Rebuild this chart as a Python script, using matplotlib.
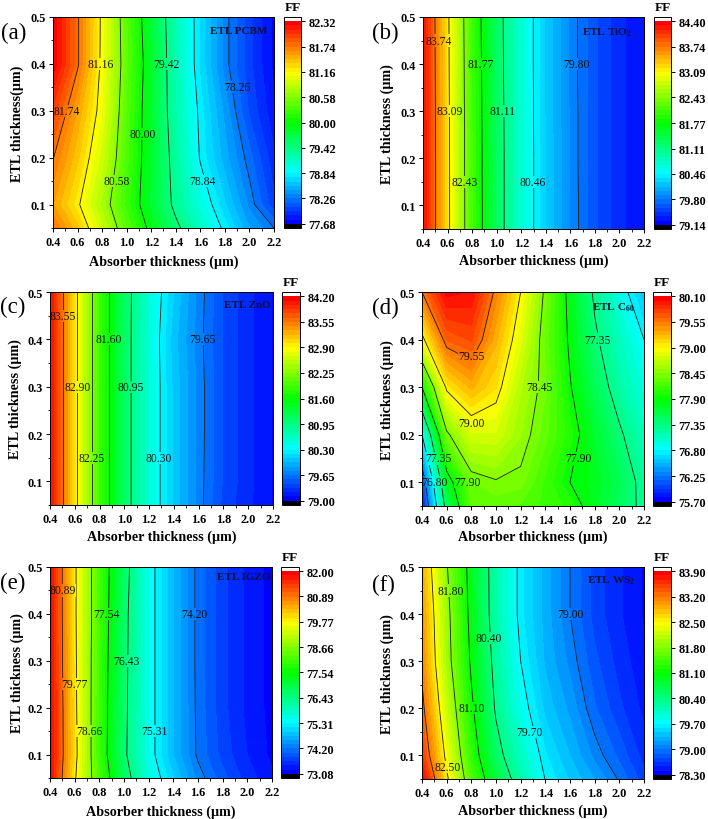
import numpy as np
import matplotlib
matplotlib.use('Agg')
from matplotlib import pyplot as plt
from matplotlib.colors import LinearSegmentedColormap
from matplotlib.path import Path
from matplotlib.transforms import blended_transform_factory

plt.rcParams['font.family'] = ['Liberation Serif', 'DejaVu Serif']
plt.rcParams['mathtext.fontset'] = 'custom'
plt.rcParams['mathtext.bf'] = 'Liberation Serif:bold'
plt.rcParams['mathtext.rm'] = 'Liberation Serif:bold'

W, H = 708, 820

# absorber and ETL thickness (um)
absorber = [0.4, 0.6, 0.8, 1.0, 1.2, 1.4, 1.6, 1.8, 2.0, 2.2]
etl = [0.05, 0.1, 0.2, 0.3, 0.4, 0.5]

# FF, one row per ETL thickness (0.05 first)
ff_pcbm = [
    [81.75, 81.38, 80.89, 80.39, 79.91, 79.49, 79.13, 78.79, 78.46, 78.26],
    [81.55, 81.20, 80.74, 80.25, 79.78, 79.34, 79.00, 78.66, 78.33, 78.00],
    [81.75, 81.38, 80.92, 80.33, 79.79, 79.29, 78.82, 78.50, 78.20, 77.90],
    [82.00, 81.53, 81.06, 80.37, 79.78, 79.23, 78.79, 78.42, 78.05, 77.80],
    [82.30, 81.77, 81.10, 80.42, 79.80, 79.20, 78.72, 78.31, 78.00, 77.75],
    [82.30, 81.77, 81.11, 80.39, 79.75, 79.19, 78.72, 78.31, 78.00, 77.75],
]
ff_tio2 = [
    [84.33, 83.18, 82.11, 81.29, 80.70, 80.23, 79.90, 79.60, 79.40, 79.25],
    [84.33, 83.18, 82.11, 81.29, 80.70, 80.23, 79.90, 79.60, 79.40, 79.25],
    [84.33, 83.18, 82.10, 81.29, 80.70, 80.23, 79.89, 79.60, 79.40, 79.25],
    [84.32, 83.17, 82.09, 81.28, 80.70, 80.22, 79.89, 79.60, 79.40, 79.25],
    [84.31, 83.16, 82.08, 81.27, 80.69, 80.22, 79.88, 79.60, 79.40, 79.25],
    [84.30, 83.15, 82.06, 81.26, 80.69, 80.22, 79.88, 79.60, 79.40, 79.25],
]
ff_zno = [
    [84.15, 83.01, 81.90, 81.12, 80.50, 80.05, 79.71, 79.40, 79.24, 79.10],
    [84.15, 83.01, 81.90, 81.12, 80.50, 80.05, 79.71, 79.42, 79.25, 79.10],
    [84.15, 83.01, 81.90, 81.12, 80.50, 80.05, 79.72, 79.42, 79.25, 79.10],
    [84.15, 83.01, 81.90, 81.12, 80.50, 80.05, 79.72, 79.42, 79.25, 79.10],
    [84.15, 83.01, 81.90, 81.12, 80.50, 80.02, 79.70, 79.42, 79.25, 79.10],
    [84.15, 83.01, 81.90, 81.12, 80.52, 80.08, 79.72, 79.42, 79.25, 79.10],
]
ff_c60 = [
    [75.80, 77.50, 78.30, 78.30, 78.25, 78.15, 78.05, 77.75, 77.50, 77.28],
    [76.00, 77.75, 78.35, 78.43, 78.40, 78.15, 77.90, 77.78, 77.55, 77.25],
    [76.80, 78.40, 78.80, 78.80, 78.55, 78.30, 78.03, 77.70, 77.40, 77.10],
    [77.90, 79.05, 79.30, 79.10, 78.65, 78.37, 77.92, 77.55, 77.20, 76.95],
    [78.93, 79.65, 79.75, 79.30, 78.85, 78.33, 77.85, 77.40, 77.10, 76.80],
    [79.55, 80.05, 80.00, 79.50, 79.00, 78.40, 77.80, 77.30, 76.93, 76.55],
]
ff_igzo = [
    [81.90, 79.85, 78.13, 76.75, 75.65, 74.95, 74.32, 73.90, 73.55, 73.30],
    [81.95, 79.97, 78.00, 76.55, 75.50, 74.75, 74.15, 73.75, 73.45, 73.22],
    [81.95, 79.93, 78.02, 76.58, 75.50, 74.75, 74.13, 73.70, 73.40, 73.20],
    [81.92, 79.90, 78.05, 76.60, 75.50, 74.75, 74.12, 73.70, 73.40, 73.20],
    [81.90, 79.87, 78.10, 76.62, 75.50, 74.75, 74.12, 73.70, 73.40, 73.20],
    [81.90, 79.87, 78.10, 76.70, 75.50, 74.75, 74.12, 73.70, 73.40, 73.20],
]
ff_ws2 = [
    [83.90, 82.57, 81.50, 80.77, 80.18, 79.69, 79.45, 79.23, 78.98, 78.70],
    [83.55, 82.40, 81.35, 80.55, 80.05, 79.60, 79.35, 79.08, 78.85, 78.60],
    [83.30, 82.17, 81.17, 80.35, 79.83, 79.43, 79.20, 78.90, 78.68, 78.50],
    [83.12, 81.97, 81.04, 80.26, 79.70, 79.33, 79.08, 78.80, 78.60, 78.45],
    [83.03, 81.93, 80.97, 80.18, 79.62, 79.30, 79.00, 78.72, 78.55, 78.40],
    [82.91, 81.83, 80.93, 80.18, 79.62, 79.30, 79.00, 78.72, 78.55, 78.40],
]

# colourbar ticks of each panel
ticks_pcbm = [77.68, 78.26, 78.84, 79.42, 80.00, 80.58, 81.16, 81.74, 82.32]
ticks_tio2 = [79.14, 79.80, 80.46, 81.11, 81.77, 82.43, 83.09, 83.74, 84.40]
ticks_zno = [79.00, 79.65, 80.30, 80.95, 81.60, 82.25, 82.90, 83.55, 84.20]
ticks_c60 = [75.70, 76.25, 76.80, 77.35, 77.90, 78.45, 79.00, 79.55, 80.10]
ticks_igzo = [73.08, 74.20, 75.31, 76.43, 77.54, 78.66, 79.77, 80.89, 82.00]
ticks_ws2 = [78.30, 79.00, 79.70, 80.40, 81.10, 81.80, 82.50, 83.20, 83.90]

# where the contour labels sit: (x, y, text)
labels_pcbm = [(.51, .3, '81.74'), (.79, .4, '81.16'), (1.32, .4, '79.42'), (1.9, .35, '78.26'),
               (1.13, .25, '80.00'), (.92, .15, '80.58'), (1.62, .15, '78.84')]
labels_tio2 = [(.53, .45, '83.74'), (.87, .4, '81.77'), (1.65, .4, '79.80'), (.62, .3, '83.09'),
               (1.05, .3, '81.11'), (.74, .15, '82.43'), (1.29, .15, '80.46')]
labels_zno = [(.5, .45, '83.55'), (.87, .4, '81.60'), (1.63, .4, '79.65'), (.62, .3, '82.90'),
              (1.05, .3, '80.95'), (.735, .15, '82.25'), (1.28, .15, '80.30')]
labels_c60 = [(.8, .365, '79.55'), (1.82, .4, '77.35'), (1.35, .3, '78.45'), (.8, .225, '79.00'),
              (.53, .15, '77.35'), (1.67, .15, '77.90'), (.5, .1, '76.80'), (.77, .1, '77.90')]
labels_igzo = [(.5, .45, '80.89'), (.86, .4, '77.54'), (1.57, .4, '74.20'), (1.02, .3, '76.43'),
               (.6, .25, '79.77'), (.72, .15, '78.66'), (1.25, .15, '75.31')]
labels_ws2 = [(.63, .45, '81.80'), (1.6, .4, '79.00'), (.94, .35, '80.40'), (.8, .2, '81.10'),
              (1.27, .15, '79.70'), (.605, .075, '82.50')]

# pixel boxes: axes left, right, top, bottom, bar left, bar right,
# then xlabel y, ylabel x
panels = [
    ('(a)', 'ETL PCBM', 'ETL thickness(\u03bcm)', ff_pcbm, ticks_pcbm, labels_pcbm,
     (53, 274, 18, 229, 284, 301, 262, 17), (1, 33), (267, 32)),
    ('(b)', r'ETL TiO$\mathbf{_2}$', 'ETL thickness (\u03bcm)', ff_tio2, ticks_tio2, labels_tio2,
     (423, 644, 18, 230, 654, 671, 261, 387), (372, 33), (632, 33)),
    ('(c)', 'ETL ZnO', 'ETL thickness (\u03bcm)', ff_zno, ticks_zno, labels_zno,
     (50, 273, 293, 506, 282, 300, 537, 15), (0, 307), (271, 306)),
    ('(d)', r'ETL C$\mathbf{_{60}}$', 'ETL thickness (\u03bcm)', ff_c60, ticks_c60, labels_c60,
     (422, 644, 293, 507, 653, 671, 537, 387), (372, 308), (635, 308)),
    ('(e)', 'ETL IGZO', 'ETL thickness (\u03bcm)', ff_igzo, ticks_igzo, labels_igzo,
     (50, 272, 568, 779, 281, 299, 812, 17), (0, 583), (270, 578)),
    ('(f)', r'ETL WS$\mathbf{_2}$', 'ETL thickness (\u03bcm)', ff_ws2, ticks_ws2, labels_ws2,
     (422, 644, 568, 780, 653, 671, 811, 387), (372, 585), (635, 581)),
]

SUB = 6  # colour bands between two ticks
rainbow = LinearSegmentedColormap.from_list(
    'rb', ['#0000ff', '#00ffff', '#00ff00', '#ffff00', '#ff0000'], N=8 * SUB)
rainbow.set_over('white')
rainbow.set_under('black')


def box(l, r, t, b):
    return [l / W, 1 - b / H, (r - l) / W, (b - t) / H]


fig = plt.figure(figsize=(W / 100, H / 100), dpi=100)
X, Y = np.meshgrid(absorber, etl)

for letter, name, ylab, ff, ticks, labels, px, letter_px, name_px in panels:
    l, r, t, b, bl, br, xlab_y, ylab_x = px
    ax = fig.add_axes(box(l, r, t, b))
    levels = np.linspace(ticks[0], ticks[-1], 8 * SUB + 1)
    cf = ax.contourf(X, Y, np.array(ff), levels=levels, cmap=rainbow, extend='both')
    cs = ax.contour(X, Y, np.array(ff), levels=ticks[1:-1], colors='#1a1a1a', linewidths=0.6)

    # break the lines behind the labels
    outer = Path([(0, 0), (3, 0), (3, 1), (0, 1), (0, 0)], closed=True)
    holes = []
    for lx, ly, txt in labels:
        ax.text(lx, ly, txt, fontsize=8.4, ha='center', va='center', color='#111111')
        dx, dy = 0.11, 0.013
        holes.append(Path([(lx - dx, ly - dy), (lx - dx, ly + dy), (lx + dx, ly + dy),
                           (lx + dx, ly - dy), (lx - dx, ly - dy)], closed=True))
    cs.set_clip_path(Path.make_compound_path(outer, *holes), transform=ax.transData)

    ax.set_xlim(0.4, 2.2)
    ax.set_ylim(0.05, 0.5)
    ax.set_xticks(np.arange(0.4, 2.21, 0.2))
    ax.set_xticks(np.arange(0.5, 2.2, 0.2), minor=True)
    ax.set_yticks([0.1, 0.2, 0.3, 0.4, 0.5])
    ax.set_yticks([0.05, 0.15, 0.25, 0.35, 0.45], minor=True)
    ax.tick_params(which='major', length=3.2, width=0.7, pad=2, labelsize=8.8)
    ax.tick_params(axis='x', which='major', pad=2.6)
    ax.tick_params(which='minor', length=1.8, width=0.6)
    for lab in ax.get_xticklabels() + ax.get_yticklabels():
        lab.set_fontweight('bold')
    for s in ax.spines.values():
        s.set_linewidth(0.7)
    ax.set_xlabel('Absorber thickness (\u03bcm)', fontsize=10.2, fontweight='bold', va='center')
    ax.set_ylabel(ylab, fontsize=10.2, fontweight='bold', va='center')
    ax.xaxis.set_label_coords(0.5, 1 - xlab_y / H,
                              transform=blended_transform_factory(ax.transAxes, fig.transFigure))
    ax.yaxis.set_label_coords(ylab_x / W, 0.5,
                              transform=blended_transform_factory(fig.transFigure, ax.transAxes))

    cax = fig.add_axes(box(bl, br, t, b))
    cb = fig.colorbar(cf, cax=cax, ticks=ticks, extendfrac=1 / (8 * SUB), extendrect=True)
    cb.ax.minorticks_off()
    cb.ax.set_yticklabels(['%.2f' % v for v in ticks], fontweight='bold', fontsize=8.8)
    cb.ax.tick_params(length=3, width=0.7, pad=2.5)
    cb.outline.set_linewidth(0.7)
    fig.text((bl + br) / 2 / W, 1 - (t - 10) / H, 'FF', fontsize=9.5, fontweight='bold',
             ha='center', va='center')

    fig.text(letter_px[0] / W, 1 - letter_px[1] / H, letter, fontsize=16.5, ha='left', va='center')
    fig.text(name_px[0] / W, 1 - name_px[1] / H, name, fontsize=8, fontweight='bold',
             ha='right', va='center', color='#101030')

fig.savefig('out.png', dpi=100)
